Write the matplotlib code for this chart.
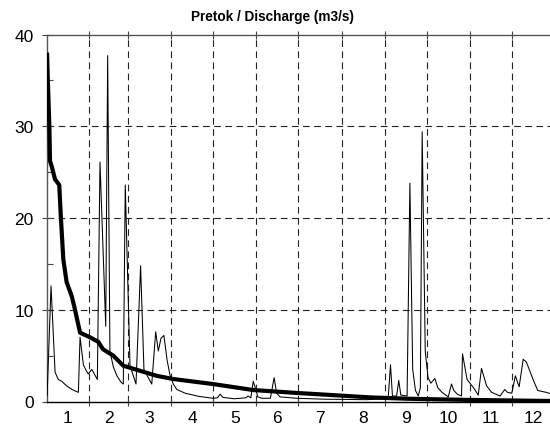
import numpy as np
import matplotlib.pyplot as plt

plt.rcParams['font.family'] = ['Liberation Sans', 'DejaVu Sans']

month_labels = [str(m) for m in range(1, 13)]
month_len = [31, 28, 31, 30, 31, 30, 31, 31, 30, 31, 30, 31]

flow_day = [1, 3.8, 6.7, 9, 11.5, 15, 19, 23.4, 24.6, 27, 28.9, 30.5, 33, 34.8, 37,
            38.9, 43, 44.4, 46, 48.4, 51, 54, 55.6, 57, 60.4, 62.8, 64.7, 68, 70.4,
            73.5, 76, 78.8, 80.7, 82.6, 84.7, 87, 89, 91.4, 94, 100, 110, 120, 123,
            125, 127, 135, 143.5, 145, 147, 148.7, 150, 152, 155, 161, 163.7, 165.5,
            168, 180, 200, 230, 244, 245.5, 247.1, 248.5, 251.5, 253, 254.5, 259, 261,
            263, 265, 267, 268.5, 269.8, 272, 274, 276, 278.9, 281, 284, 288.5, 290.8,
            292.5, 295, 298, 298.7, 302, 306.6, 310, 312.3, 316, 319.6, 325.6, 329,
            331, 334, 336.6, 339.3, 342.2, 344.5, 349, 352.6, 358.6, 365]
flow_q = [0.6, 12.6, 3.2, 2.4, 2.2, 1.7, 1.3, 1.0, 7.0, 4.0, 3.4, 3.0, 3.5, 3.0, 2.4,
          26.1, 8.2, 37.7, 5.5, 3.8, 2.8, 2.1, 1.9, 23.6, 3.9, 2.8, 1.9, 14.8, 3.5,
          2.6, 1.9, 7.6, 5.5, 6.9, 7.2, 4.5, 2.9, 1.9, 1.3, 0.9, 0.55, 0.35, 0.4,
          0.8, 0.45, 0.3, 0.4, 0.6, 0.4, 2.2, 1.6, 0.5, 0.35, 0.35, 2.6, 0.9,
          0.5, 0.35, 0.25, 0.2, 0.3, 0.5, 4.0, 0.6, 0.6, 2.3, 0.7, 0.6, 23.8,
          3.5, 1.2, 0.6, 1.5, 29.4, 5.5, 2.6, 2.0, 2.5, 1.5, 1.0, 0.5, 1.9,
          1.2, 0.8, 0.6, 5.2, 2.4, 1.5, 0.7, 3.6, 1.7, 1.0, 0.6, 1.3,
          1.0, 0.9, 2.8, 1.6, 4.6, 4.3, 2.5, 1.2, 1.0, 0.7]

# flow duration curve
dur_day = [1, 1.5, 2.6, 3.1, 4.5, 6.7, 9.7, 10.7, 12.6, 15, 18.6, 21, 24.6, 31.7, 37.7,
           41, 48.4, 55.6, 67.5, 79.5, 91.4, 120, 148.7, 181, 213, 232, 260, 300, 365]
dur_q = [37.8, 35, 30, 26.2, 25.5, 24.2, 23.6, 20.5, 15.5, 13, 11.5, 10, 7.5, 7.0, 6.5,
         5.7, 5.0, 3.9, 3.35, 2.8, 2.45, 1.9, 1.25, 0.92, 0.63, 0.45, 0.3, 0.18, 0.05]

W, H = 550, 427
fig = plt.figure(figsize=(W / 100, H / 100), dpi=100)
ax = fig.add_axes([46.7 / W, 24.5 / H, (555 - 46.7) / W, 367 / H])

bounds = np.cumsum(month_len)
mids = bounds - np.array(month_len) / 2

dash = (0, (6, 4))
for b in bounds[:-1]:
    ax.axvline(b, color='#222222', lw=0.8, ls=dash, zorder=1)
for v in [10, 20, 30]:
    ax.axhline(v, color='#222222', lw=0.8, ls=dash, zorder=1)

ax.plot(flow_day, flow_q, color='black', lw=0.75, zorder=3)
ax.plot(dur_day, dur_q, color='black', lw=3.0, zorder=4)

ax.set_xlim(0.7, 365)
ax.set_ylim(0, 40)

ax.set_xticks(bounds[:-1])
ax.set_xticklabels([])
ax.set_xticks(mids, minor=True)
ax.set_xticklabels(month_labels, minor=True)
ax.tick_params(axis='x', which='major', direction='inout', length=6, width=0.8,
               top=True, color='#444444')
ax.tick_params(axis='x', which='minor', length=0, pad=6, labelsize=12.5)

ax.set_yticks([0, 10, 20, 30, 40])
ax.set_yticks([5, 15, 25, 35], minor=True)
ax.tick_params(axis='y', which='major', direction='inout', length=7, width=0.8,
               labelsize=12.5, pad=6, color='#444444')
ax.tick_params(axis='y', which='minor', direction='in', length=4, width=0.8,
               color='#444444')

ax.spines['right'].set_visible(False)
ax.spines['left'].set_color('#555555')
ax.spines['top'].set_color('#555555')
ax.spines['bottom'].set_color('black')
for s in ax.spines.values():
    s.set_linewidth(1.0)

fig.text(272 / W, 1 - 17 / H, 'Pretok / Discharge (m3/s)', ha='center', va='center',
         fontweight='bold', fontsize=9.8)

fig.savefig('out.png', dpi=100)
